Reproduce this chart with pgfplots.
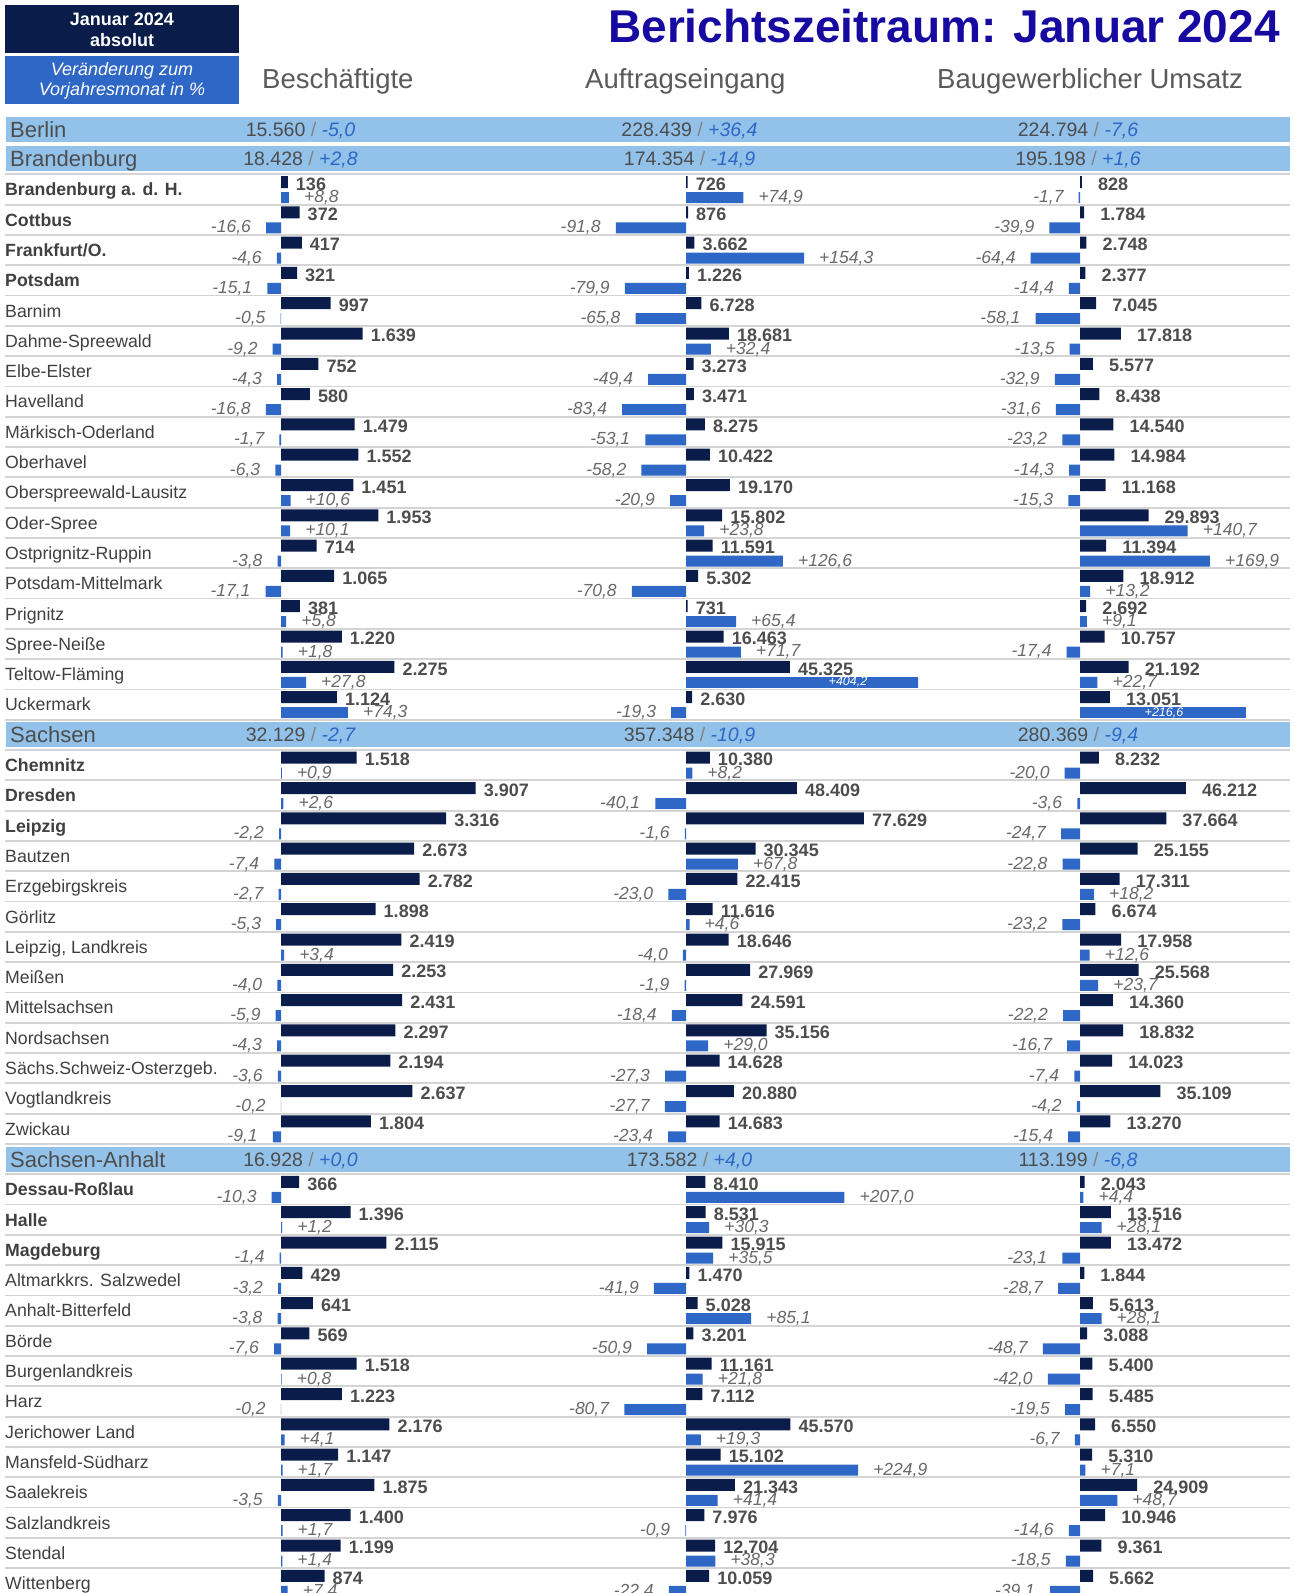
\documentclass[border=0pt]{standalone}
\usepackage{fontspec}
\setmainfont{Liberation Sans}
\usepackage{pgfplots}
\usepackage{pgfplotstable}
\pgfplotsset{compat=1.18}

\definecolor{navy}{RGB}{10,29,74}
\definecolor{barblue}{RGB}{46,103,198}
\definecolor{band}{RGB}{146,194,233}
\definecolor{titleblue}{RGB}{22,10,160}
\definecolor{txt}{RGB}{64,64,64}
\definecolor{labtxt}{RGB}{77,77,77}
\definecolor{pcttxt}{RGB}{105,105,105}
\definecolor{hdrtxt}{RGB}{90,90,90}
\definecolor{slash}{RGB}{130,130,130}
\definecolor{gridgray}{RGB}{212,212,212}

% absolute values: r = row, B = Beschaeftigte, A = Auftragseingang, U = Baugewerblicher Umsatz
\pgfplotstableread{
r B A U
0 136 726 828
1 372 876 1784
2 417 3662 2748
3 321 1226 2377
4 997 6728 7045
5 1639 18681 17818
6 752 3273 5577
7 580 3471 8438
8 1479 8275 14540
9 1552 10422 14984
10 1451 19170 11168
11 1953 15802 29893
12 714 11591 11394
13 1065 5302 18912
14 381 731 2692
15 1220 16463 10757
16 2275 45325 21192
17 1124 2630 13051
19 1518 10380 8232
20 3907 48409 46212
21 3316 77629 37664
22 2673 30345 25155
23 2782 22415 17311
24 1898 11616 6674
25 2419 18646 17958
26 2253 27969 25568
27 2431 24591 14360
28 2297 35156 18832
29 2194 14628 14023
30 2637 20880 35109
31 1804 14683 13270
33 366 8410 2043
34 1396 8531 13516
35 2115 15915 13472
36 429 1470 1844
37 641 5028 5613
38 569 3201 3088
39 1518 11161 5400
40 1223 7112 5485
41 2176 45570 6550
42 1147 15102 5310
43 1875 21343 24909
44 1400 7976 10946
45 1199 12704 9361
46 874 10059 5662
}\data

% changes in %, split into rises and falls (p = value, l = its label)
\pgfplotstableread{
r p l
0 8.8 +8,8
10 10.6 +10,6
11 10.1 +10,1
14 5.8 +5,8
15 1.8 +1,8
16 27.8 +27,8
17 74.3 +74,3
19 0.9 +0,9
20 2.6 +2,6
25 3.4 +3,4
34 1.2 +1,2
39 0.8 +0,8
41 4.1 +4,1
42 1.7 +1,7
44 1.7 +1,7
45 1.4 +1,4
46 7.4 +7,4
}\Bpos
\pgfplotstableread{
r p l
1 -16.6 -16,6
2 -4.6 -4,6
3 -15.1 -15,1
4 -0.5 -0,5
5 -9.2 -9,2
6 -4.3 -4,3
7 -16.8 -16,8
8 -1.7 -1,7
9 -6.3 -6,3
12 -3.8 -3,8
13 -17.1 -17,1
21 -2.2 -2,2
22 -7.4 -7,4
23 -2.7 -2,7
24 -5.3 -5,3
26 -4.0 -4,0
27 -5.9 -5,9
28 -4.3 -4,3
29 -3.6 -3,6
30 -0.2 -0,2
31 -9.1 -9,1
33 -10.3 -10,3
35 -1.4 -1,4
36 -3.2 -3,2
37 -3.8 -3,8
38 -7.6 -7,6
40 -0.2 -0,2
43 -3.5 -3,5
}\Bneg
\pgfplotstableread{
r p l
0 74.9 +74,9
2 154.3 +154,3
5 32.4 +32,4
11 23.8 +23,8
12 126.6 +126,6
14 65.4 +65,4
15 71.7 +71,7
19 8.2 +8,2
22 67.8 +67,8
24 4.6 +4,6
28 29.0 +29,0
33 207.0 +207,0
34 30.3 +30,3
35 35.5 +35,5
37 85.1 +85,1
39 21.8 +21,8
41 19.3 +19,3
42 224.9 +224,9
43 41.4 +41,4
45 38.3 +38,3
}\Apos
\pgfplotstableread{
r p l
1 -91.8 -91,8
3 -79.9 -79,9
4 -65.8 -65,8
6 -49.4 -49,4
7 -83.4 -83,4
8 -53.1 -53,1
9 -58.2 -58,2
10 -20.9 -20,9
13 -70.8 -70,8
17 -19.3 -19,3
20 -40.1 -40,1
21 -1.6 -1,6
23 -23.0 -23,0
25 -4.0 -4,0
26 -1.9 -1,9
27 -18.4 -18,4
29 -27.3 -27,3
30 -27.7 -27,7
31 -23.4 -23,4
36 -41.9 -41,9
38 -50.9 -50,9
40 -80.7 -80,7
44 -0.9 -0,9
46 -22.4 -22,4
}\Aneg
% +404,2: its bar is cut off at the column edge, its label sits inside the bar
\pgfplotstableread{
r p
16 404.2
}\Ax
\pgfplotstableread{
r p l
11 140.7 +140,7
12 169.9 +169,9
13 13.2 +13,2
14 9.1 +9,1
16 22.7 +22,7
23 18.2 +18,2
25 12.6 +12,6
26 23.7 +23,7
33 4.4 +4,4
34 28.1 +28,1
37 28.1 +28,1
42 7.1 +7,1
43 48.7 +48,7
}\Upos
\pgfplotstableread{
r p l
0 -1.7 -1,7
1 -39.9 -39,9
2 -64.4 -64,4
3 -14.4 -14,4
4 -58.1 -58,1
5 -13.5 -13,5
6 -32.9 -32,9
7 -31.6 -31,6
8 -23.2 -23,2
9 -14.3 -14,3
10 -15.3 -15,3
15 -17.4 -17,4
19 -20.0 -20,0
20 -3.6 -3,6
21 -24.7 -24,7
22 -22.8 -22,8
24 -23.2 -23,2
27 -22.2 -22,2
28 -16.7 -16,7
29 -7.4 -7,4
30 -4.2 -4,2
31 -15.4 -15,4
35 -23.1 -23,1
36 -28.7 -28,7
38 -48.7 -48,7
39 -42.0 -42,0
40 -19.5 -19,5
41 -6.7 -6,7
44 -14.6 -14,6
45 -18.5 -18,5
46 -39.1 -39,1
}\Uneg
% +216,6: label inside the bar
\pgfplotstableread{
r p
17 216.6
}\Ux

\pgfplotsset{
  baraxis/.style={scale only axis, width=1294pt, height=1593pt, at={(0pt,0pt)}, anchor=north west,
    hide axis, clip=false, y dir=reverse, ymin=-6.25413, ymax=46.3201, xtick=\empty, ytick=\empty,
    /pgf/number format/assume math mode=true},
  absbar/.style={xbar, bar width=12pt, bar shift=0pt, fill=navy, draw=none, point meta=x,
    nodes near coords, nodes near coords align=horizontal,
    every node near coord/.append style={font=\bfseries\fontsize{18}{20}\selectfont, text=labtxt,
      inner xsep=#1, inner ysep=0pt, yshift=-2pt,
      /pgf/number format/fixed, /pgf/number format/precision=0, /pgf/number format/1000 sep={.},
      /pgf/number format/assume math mode=true}},
  plainpct/.style={xbar, bar width=11pt, bar shift=0pt, fill=barblue, draw=none},
  pctlab/.style={scatter, only marks, mark=*, mark size=0pt, mark options={draw=none, fill=none},
    point meta=explicit symbolic,
    scatter/@pre marker code/.code={%
      \node[anchor=#1, inner xsep=15pt, inner ysep=0pt, text=pcttxt, font=\itshape\fontsize{17.5}{20}\selectfont] at (0pt,0pt) {\pgfplotspointmeta};},
    scatter/@post marker code/.code={}},
}

% one band row: y centre, name, then value and change for the three columns
\newcommand{\bandrow}[8]{%
  \node[anchor=base west, text=labtxt, font=\fontsize{22}{24}\selectfont, inner sep=0pt] at (10,#1+7.9) {#2};
  \node[anchor=base, text=labtxt, font=\fontsize{19.5}{22}\selectfont, inner sep=0pt] at (300.5,#1+7) {#3\ \textcolor{slash}{/} \textcolor{barblue}{\itshape #4}};
  \node[anchor=base, text=labtxt, font=\fontsize{19.5}{22}\selectfont, inner sep=0pt] at (689.5,#1+7) {#5\ \textcolor{slash}{/} \textcolor{barblue}{\itshape #6}};
  \node[anchor=base, text=labtxt, font=\fontsize{19.5}{22}\selectfont, inner sep=0pt] at (1078,#1+7) {#7\ \textcolor{slash}{/} \textcolor{barblue}{\itshape #8}};
}

\begin{document}
\begin{tikzpicture}
% background: row separators and row names
\begin{axis}[scale only axis, width=1285pt, height=1593pt, at={(5pt,0pt)}, anchor=north west,
  xmin=5, xmax=1290, ymin=-6.25413, ymax=46.3201, y dir=reverse, clip=false,
  axis line style={draw=none}, xtick=\empty,
  ytick={0,1,2,3,4,5,6,7,8,9,10,11,12,13,14,15,16,17,19,20,21,22,23,24,25,26,27,28,29,30,31,33,34,35,36,37,38,39,40,41,42,43,44,45,46},
  yticklabels={\textbf{Brandenburg a. d. H.},\textbf{Cottbus},\textbf{Frankfurt/O.},\textbf{Potsdam},Barnim,Dahme-Spreewald,Elbe-Elster,Havelland,Märkisch-Oderland,Oberhavel,Oberspreewald-Lausitz,Oder-Spree,Ostprignitz-Ruppin,Potsdam-Mittelmark,Prignitz,Spree-Neiße,Teltow-Fläming,Uckermark,
  \textbf{Chemnitz},\textbf{Dresden},\textbf{Leipzig},Bautzen,Erzgebirgskreis,Görlitz,{Leipzig, Landkreis},Meißen,Mittelsachsen,Nordsachsen,Sächs.Schweiz-Osterzgeb.,Vogtlandkreis,Zwickau,
  \textbf{Dessau-Roßlau},\textbf{Halle},\textbf{Magdeburg},Altmarkkrs. Salzwedel,Anhalt-Bitterfeld,Börde,Burgenlandkreis,Harz,Jerichower Land,Mansfeld-Südharz,Saalekreis,Salzlandkreis,Stendal,Wittenberg},
  major tick length=0pt, minor tick length=0pt,
  minor ytick={-0.5,0.5,...,46.5}, yminorgrids=true, ymajorgrids=false,
  minor grid style={draw=gridgray, line width=1.8pt},
  yticklabel style={anchor=base west, inner sep=0pt, yshift=-6.3pt, font=\fontsize{17.7}{20}\selectfont, text=txt},
]
\fill[band] (axis cs:6,-2.393) rectangle (axis cs:1290,-1.568);
\fill[band] (axis cs:6,-1.436) rectangle (axis cs:1290,-0.611);
\fill[band] (axis cs:6,17.5875) rectangle (axis cs:1290,18.4125);
\fill[band] (axis cs:6,31.5875) rectangle (axis cs:1290,32.4125);
\end{axis}

% Beschaeftigte
\begin{axis}[baraxis, xmin=-5642.57, xmax=20341.37]
\addplot[absbar=8pt] table[x=B, y expr=\thisrow{r}-0.2475]{\data};
\end{axis}
\begin{axis}[baraxis, xmin=-312.222, xmax=1125.556]
\addplot[plainpct] table[x=p, y expr=\thisrow{r}+0.264]{\Bpos};
\addplot[plainpct] table[x=p, y expr=\thisrow{r}+0.264]{\Bneg};
\addplot[pctlab=west] table[x=p, y expr=\thisrow{r}+0.264, meta=l]{\Bpos};
\addplot[pctlab=east] table[x=p, y expr=\thisrow{r}+0.264, meta=l]{\Bneg};
\end{axis}

% Auftragseingang
\begin{axis}[baraxis, xmin=-299563.3, xmax=265502.2]
\addplot[absbar=8pt] table[x=A, y expr=\thisrow{r}-0.2475]{\data};
\end{axis}
\begin{axis}[baraxis, at={(400pt,0pt)}, width=1147.05pt, xmin=-373.856, xmax=1125.556]
\addplot[plainpct] table[x=p, y expr=\thisrow{r}+0.264]{\Apos};
\addplot[plainpct] table[x=p, y expr=\thisrow{r}+0.264]{\Aneg};
\addplot[pctlab=west] table[x=p, y expr=\thisrow{r}+0.264, meta=l]{\Apos};
\addplot[pctlab=east] table[x=p, y expr=\thisrow{r}+0.264, meta=l]{\Aneg};
\end{axis}
\begin{scope}
\clip (0pt,0pt) rectangle (918pt,-1593pt);
\begin{axis}[baraxis, at={(400pt,0pt)}, width=1147.05pt, xmin=-373.856, xmax=1125.556]
\addplot[plainpct] table[x=p, y expr=\thisrow{r}+0.264]{\Ax};
\end{axis}
\end{scope}

% Baugewerblicher Umsatz
\begin{axis}[baraxis, xmin=-471615.7, xmax=93449.8]
\addplot[absbar=16pt] table[x=U, y expr=\thisrow{r}-0.2475]{\data};
\end{axis}
\begin{axis}[baraxis, at={(800pt,0pt)}, width=1141.05pt, xmin=-366.013, xmax=1125.556]
\addplot[plainpct] table[x=p, y expr=\thisrow{r}+0.264]{\Upos};
\addplot[plainpct] table[x=p, y expr=\thisrow{r}+0.264]{\Uneg};
\addplot[plainpct] table[x=p, y expr=\thisrow{r}+0.264]{\Ux};
\addplot[pctlab=west] table[x=p, y expr=\thisrow{r}+0.264, meta=l]{\Upos};
\addplot[pctlab=east] table[x=p, y expr=\thisrow{r}+0.264, meta=l]{\Uneg};
\end{axis}

% texts
\begin{scope}[x=1pt, y=-1pt]
\node[text=white, font=\itshape\fontsize{12.5}{14}\selectfont] at (848,682.3) {+404,2};
\node[text=white, font=\itshape\fontsize{12.5}{14}\selectfont] at (1164,712.6) {+216,6};
\fill[navy] (5,5) rectangle (239,53);
\node[text=white, font=\bfseries\fontsize{18}{20.5}\selectfont, align=center] at (122,30) {Januar 2024\\absolut};
\fill[barblue] (5,56) rectangle (239,104);
\node[text=white, font=\itshape\fontsize{18}{20.5}\selectfont, align=center] at (122,81) {Veränderung zum\\Vorjahresmonat in \%};
\node[anchor=base east, text=titleblue, font=\bfseries\fontsize{46}{50}\selectfont, inner sep=0pt] at (1280,42) {Berichtszeitraum: Januar 2024};
\node[anchor=base west, text=hdrtxt, font=\fontsize{27.5}{30}\selectfont, inner sep=0pt] at (262,88) {Beschäftigte};
\node[anchor=base west, text=hdrtxt, font=\fontsize{27.5}{30}\selectfont, inner sep=0pt] at (585,88) {Auftragseingang};
\node[anchor=base west, text=hdrtxt, font=\fontsize{27.5}{30}\selectfont, inner sep=0pt] at (937,88) {Baugewerblicher Umsatz};
% band rows
\bandrow{129.5}{Berlin}{15.560}{-5,0}{228.439}{+36,4}{224.794}{-7,6}
\bandrow{158.5}{Brandenburg}{18.428}{+2,8}{174.354}{-14,9}{195.198}{+1,6}
\bandrow{734.9}{Sachsen}{32.129}{-2,7}{357.348}{-10,9}{280.369}{-9,4}
\bandrow{1159.1}{Sachsen-Anhalt}{16.928}{+0,0}{173.582}{+4,0}{113.199}{-6,8}
\end{scope}
\pgfresetboundingbox
\path[use as bounding box] (0pt,0pt) rectangle (1294pt,-1593pt);
\end{tikzpicture}
\end{document}
